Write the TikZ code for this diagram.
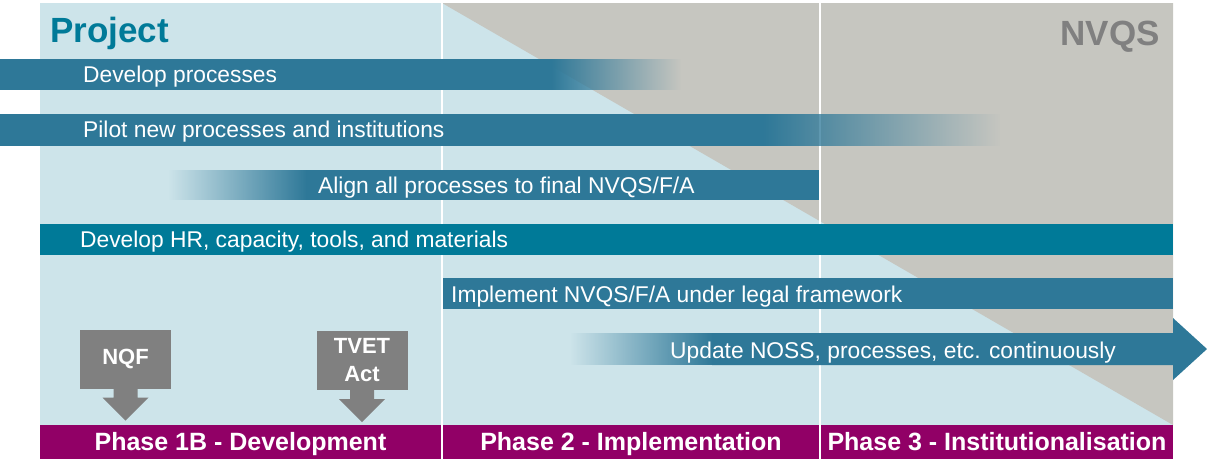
\documentclass[tikz,border=0pt]{standalone}
\usepackage{fontspec}
\setmainfont{Liberation Sans}
\usepackage{xcolor}
\usetikzlibrary{fadings}
\definecolor{panelblue}{HTML}{CDE4EA}
\definecolor{nvqsgray}{HTML}{C6C6C0}
\definecolor{barblue}{HTML}{2E7898}
\definecolor{hrteal}{HTML}{007A98}
\definecolor{boxgray}{HTML}{808080}
\definecolor{phasepurple}{HTML}{910066}

\tikzfading[name=fadeout, left color=transparent!0, right color=transparent!100]
\tikzfading[name=fadein, left color=transparent!100, right color=transparent!0]

\tikzset{
  bartext/.style={anchor=base west, inner sep=0pt, text=white, font=\fontsize{22.8}{27}\selectfont},
  phasetext/.style={anchor=base, inner sep=0pt, text=white, font=\bfseries\fontsize{25}{30}\selectfont},
  lawbox/.style={fill=boxgray, text=white, minimum width=91pt, minimum height=59pt, inner sep=0pt, align=center, font=\bfseries\fontsize{22}{28}\selectfont},
}

\begin{document}
\begin{tikzpicture}[x=1pt,y=-1pt]
    \useasboundingbox (0,0) rectangle (1207,459);
    % panel and NVQS triangle
    \fill[panelblue] (40,3) rectangle (1173,425);
    \fill[nvqsgray] (442,3) -- (1173,3) -- (1173,425) -- cycle;
    \draw[white, line width=2pt] (442,3) -- (442,425);
    \draw[white, line width=2pt] (820,3) -- (820,425);
    \node[anchor=base west, inner sep=0pt, text=hrteal, font=\bfseries\fontsize{35}{40}\selectfont] (project) at (50,42) {Project};
    \node[anchor=base east, inner sep=0pt, text=boxgray, font=\bfseries\fontsize{35}{40}\selectfont] (nvqs) at (1160,45) {NVQS};
    % bars
    \fill[barblue] (0,59) rectangle (552,90);
    \fill[barblue, path fading=fadeout] (551,59) rectangle (681,90);
    \node[bartext] (devproc) at (83,82.7) {Develop processes};
    \fill[barblue] (0,114) rectangle (764,146);
    \fill[barblue, path fading=fadeout] (763,114) rectangle (1000,146);
    \node[bartext] (pilot) at (83,137) {Pilot new processes and institutions};
    \fill[barblue, path fading=fadein] (168,170) rectangle (307,200);
    \fill[barblue] (306,170) rectangle (819,200);
    \node[bartext] (align) at (318,193) {Align all processes to final NVQS/F/A};
    \fill[hrteal] (40,224) rectangle (1173,255);
    \node[bartext] (hr) at (80,247) {Develop HR, capacity, tools, and materials};
    \fill[barblue] (443,278) rectangle (1173,309);
    \node[bartext] (impl) at (451,302) {Implement NVQS/F/A under legal framework};
    \fill[barblue, path fading=fadein] (570,333) rectangle (713,365);
    \fill[barblue] (712,333) -- (1173,333) -- (1173,318) -- (1207,349) -- (1173,380) -- (1173,365) -- (712,365) -- cycle;
    \node[bartext] (update) at (670,358) {Update NOSS, processes, etc. continuously};
    % legal inputs
    \node[lawbox] (nqf) at (125.5,359) {NQF};
    \node[lawbox] (tvet) at (362,360.5) {TVET\\Act};
    \foreach \b in {nqf,tvet}
      \fill[boxgray] (\b.south) ++(-12,-1) -- ++(0,10) -- ++(-11,0) -- ++(23,23) -- ++(23,-23) -- ++(-11,0) -- ++(0,-10) -- cycle;
    % phases
    \fill[phasepurple] (40,425) rectangle (441,459);
    \fill[phasepurple] (443,425) rectangle (819,459);
    \fill[phasepurple] (821,425) rectangle (1173,459);
    \node[phasetext] (ph1) at (240.5,450) {Phase 1B - Development};
    \node[phasetext] (ph2) at (631,450) {Phase 2 - Implementation};
    \node[phasetext] (ph3) at (997,450) {Phase 3 - Institutionalisation};
\end{tikzpicture}
\end{document}
